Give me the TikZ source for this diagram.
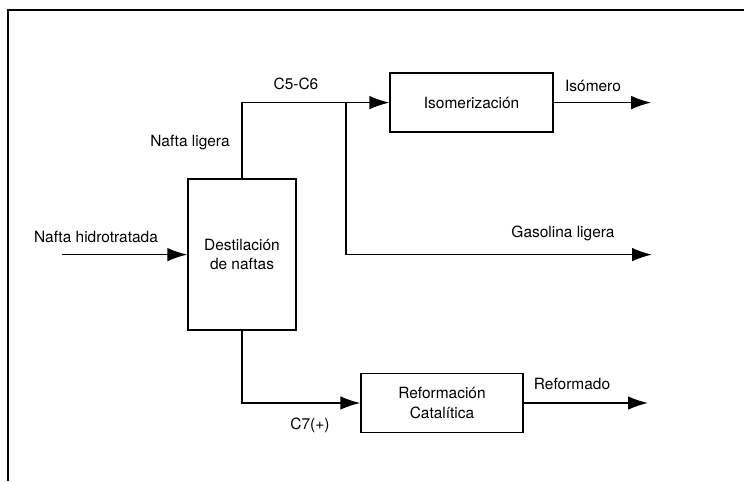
\documentclass[tikz,border=0pt]{standalone}
\usepackage{fontspec}
\setmainfont{TeX Gyre Heros}
\usetikzlibrary{positioning,arrows.meta}

\begin{document}
\begin{tikzpicture}[
    f/.style={-{Latex[length=5mm,width=3.4mm]},line width=1.1pt},%
    b/.style={draw,line width=1pt,align=center,inner sep=0pt},%
    p/.style={inner sep=1pt},font=\fontsize{11}{14}\selectfont]
    \useasboundingbox (0,0) rectangle (18.6,12.025);
    \draw[line width=1pt] (18.6,11.775) -| (0.2,0);
    \node[b,minimum width=2.7cm,minimum height=3.775cm] (Dest) at (6.05,5.66) {Destilación\\de naftas} ;
    \node[b,minimum width=4.075cm,minimum height=1.475cm] (Iso) at (11.79,9.46) {Isomerización} ;
    \node[b,minimum width=4.05cm,minimum height=1.475cm] (Ref) at (11.05,1.95) {Reformación\\Catalítica} ;
    \coordinate (in) at (1.55,5.66);
    \coordinate (br) at (8.65,9.46);
    \coordinate (isoout) at (16.28,9.46);
    \coordinate (gasout) at (16.3,5.66);
    \coordinate (refout) at (16.2,1.95);
    % corrientes
    \draw[f] (in) -- (Dest) ;
    \draw[f] (Dest.north) |- (Iso.west) ;
    \draw[line width=1pt] (br) -- (br |- gasout) ;
    \draw[f] (br |- gasout) -- (gasout) ;
    \draw[f] (Iso.east) -- (isoout) ;
    \draw[f] (Dest.south) |- (Ref.west) ;
    \draw[f] (Ref.east) -- (refout) ;
    % etiquetas
    \node[p] (nh) at (2.4,6.1) {Nafta hidrotratada} ;
    \node[p] (nl) at (4.75,8.45) {Nafta ligera} ;
    \node[p] (c56) at (7.4,9.925) {C5-C6} ;
    \node[p] (iso) at (14.825,9.875) {Isómero} ;
    \node[p] (gas) at (14.075,6.2) {Gasolina ligera} ;
    \node[p] (rfd) at (14.3,2.425) {Reformado} ;
    \node[p] (c7) at (7.75,1.4) {C7(+)} ;
\end{tikzpicture}
\end{document}
